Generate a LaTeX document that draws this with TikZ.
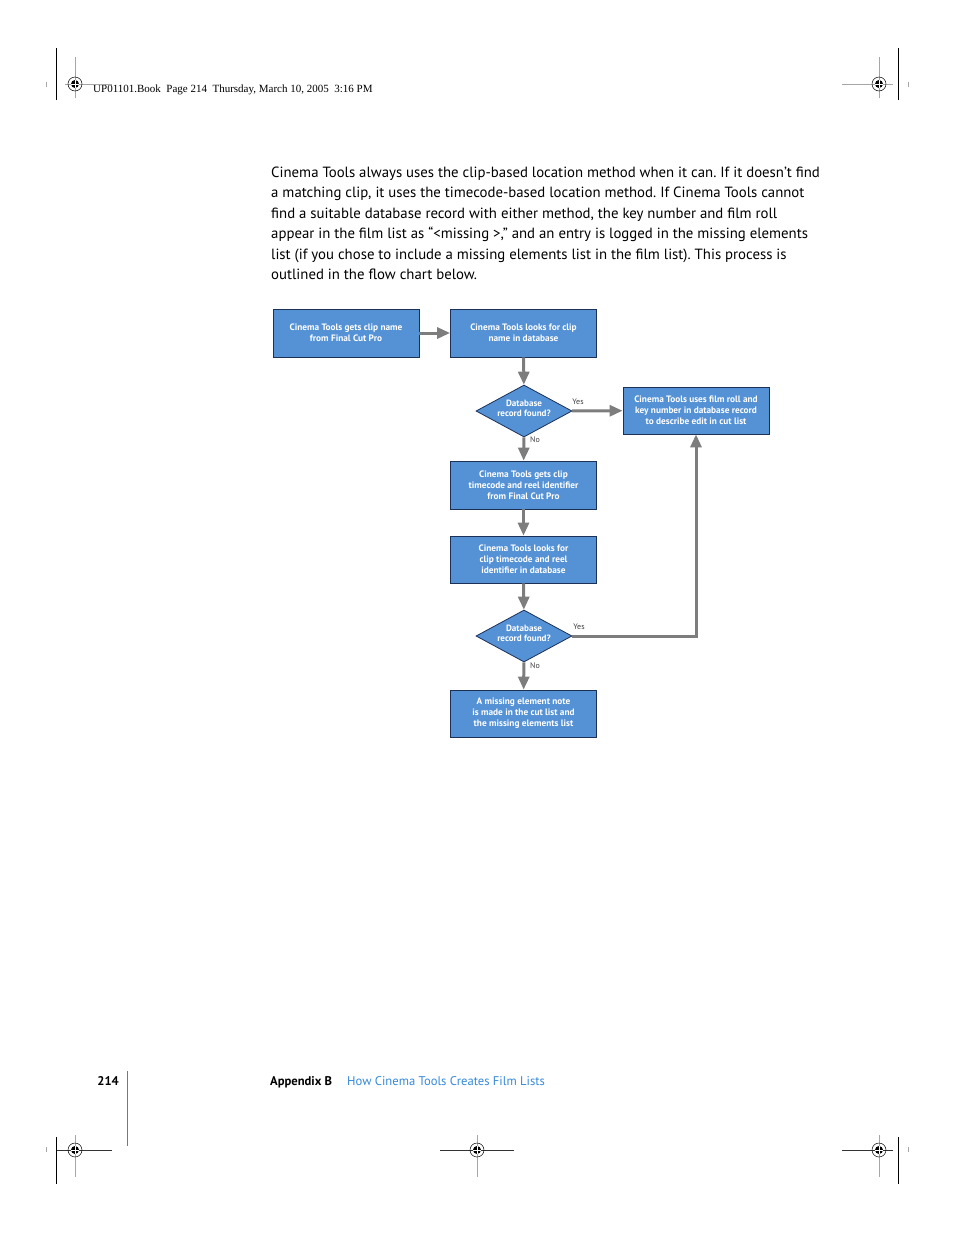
\documentclass[tikz,border=0pt]{standalone}
\usepackage{fontspec}
\setmainfont{PT Sans}
\newfontfamily\headfont{Liberation Serif}
\usetikzlibrary{arrows.meta,positioning,shapes.geometric,calc}
\frenchspacing
\definecolor{boxblue}{RGB}{84,145,213}
\definecolor{boxedge}{RGB}{28,48,88}
\definecolor{arrgray}{RGB}{125,125,125}
\definecolor{linkblue}{RGB}{52,136,218}
\newcommand{\regmark}[1]{%
  \draw[line width=0.5pt] (#1) circle (7);
  \fill (#1) circle (4);
  \draw[white, line width=0.8pt] ($(#1)+(-4,0)$) -- ($(#1)+(4,0)$) ($(#1)+(0,-4)$) -- ($(#1)+(0,4)$);}
\tikzset{
  box/.style={draw=boxedge, fill=boxblue, line width=0.8pt, minimum width=146pt, minimum height=48pt, inner sep=2pt, align=center, text=white, font=\fontsize{9.3}{11}\selectfont\bfseries},
  decision/.style={diamond, draw=boxedge, fill=boxblue, line width=0.8pt, minimum width=96pt, minimum height=52pt, inner sep=-2pt, aspect=1.85, align=center, text depth=5.5pt, text=white, font=\fontsize{9.1}{10.5}\selectfont\bfseries},
  arr/.style={draw=arrgray, line width=3pt, -{Triangle[length=13pt, width=11pt]}},
  lbl/.style={font=\fontsize{8}{9}\selectfont, text=black!75, inner sep=0pt},
  para/.style={anchor=base west, inner sep=0pt, font=\fontsize{14.8}{20}\selectfont},
  crop/.style={line width=1pt},
  guide/.style={line width=0.6pt, black!35}}

\begin{document}
\begin{tikzpicture}[x=1pt, y=-1pt]
  \useasboundingbox (0,0) rectangle (954,1235);
  % header and crop marks
  \node[anchor=base west, inner sep=0pt, font=\headfont\fontsize{11}{12}\selectfont] (head) at (93,92.5) {UP01101.Book\ \ Page 214\ \ Thursday, March 10, 2005\ \ 3:16 PM};
  \draw[crop] (56,48) -- (56,100);
  \draw[crop] (898,48) -- (898,100);
  \draw[crop] (56,1137) -- (56,1184);
  \draw[crop] (898,1137) -- (898,1184);
  \draw[guide] (65,84) -- (112,84) (75,57) -- (75,98);
  \draw[guide] (842,84) -- (893,84) (879,57) -- (879,98);
  \draw[guide] (75,1135) -- (75,1177) (477,1135) -- (477,1177) (879,1135) -- (879,1177);
  \draw[line width=0.6pt, black!80] (57,1150) -- (112,1150) (440,1150) -- (514,1150) (842,1150) -- (893,1150);
  \draw[guide] (46,82) -- (46,87) (908,82) -- (908,87) (46,1147) -- (46,1152) (908,1147) -- (908,1152);
  \regmark{75,84}
  \regmark{879,84}
  \regmark{75,1150}
  \regmark{477,1150}
  \regmark{879,1150}
  % intro paragraph
  \foreach \t [count=\i from 0] in {%
    {Cinema Tools always uses the clip-based location method when it can. If it doesn’t find},
    {a matching clip, it uses the timecode-based location method. If Cinema Tools cannot},
    {find a suitable database record with either method, the key number and film roll},
    {appear in the film list as “<missing >,” and an entry is logged in the missing elements},
    {list (if you chose to include a missing elements list in the film list). This process is},
    {outlined in the flow chart below.}}
    \node[para] (line\i) at (271,177.5+20.4*\i) {\t};
  % flow chart
  \node[box] (getname) at (346,333) {Cinema Tools gets clip name\\from Final Cut Pro};
  \node[box] (findname) at (523.5,333) {Cinema Tools looks for clip\\name in database};
  \node[decision] (found1) at (524,411) {Database\\record found?};
  \node[box, minimum height=47pt] (useroll) at (696,410.5) {Cinema Tools uses film roll and\\key number in database record\\to describe edit in cut list};
  \node[box] (gettc) at (523.5,485) {Cinema Tools gets clip\\timecode and reel identifier\\from Final Cut Pro};
  \node[box, minimum height=47pt] (findtc) at (523.5,559.5) {Cinema Tools looks for\\clip timecode and reel\\identifier in database};
  \node[decision] (found2) at (524,636) {Database\\record found?};
  \node[box, minimum height=47pt] (missing) at (523.5,713.5) {A missing element note\\is made in the cut list and\\the missing elements list};
  \draw[arr] (getname) -- (findname);
  \draw[arr] (findname) -- (found1);
  \draw[arr] (found1) -- (useroll);
  \draw[arr] (found1) -- (gettc);
  \draw[arr] (gettc) -- (findtc);
  \draw[arr] (findtc) -- (found2);
  \draw[arr] (found2) -- (missing);
  \draw[arr] (found2.east) -| (useroll.south);
  \node[lbl] (yes1) at (578,402) {Yes};
  \node[lbl] (no1) at (535,440) {No};
  \node[lbl] (yes2) at (579,627) {Yes};
  \node[lbl] (no2) at (535,666) {No};
  % footer
  \draw[linkblue, line width=0.8pt] (127,1071) -- (127,1146);
  \node[anchor=base east, inner sep=0pt, font=\fontsize{12.6}{14}\selectfont\bfseries] (pageno) at (119,1085) {214};
  \node[anchor=base west, inner sep=0pt, font=\fontsize{12.6}{14}\selectfont\bfseries] (appx) at (270,1085) {Appendix B};
  \node[anchor=base west, inner sep=0pt, font=\fontsize{12.6}{14}\selectfont, text=linkblue] (chap) at (347,1085) {How Cinema Tools Creates Film Lists};
\end{tikzpicture}
\end{document}
